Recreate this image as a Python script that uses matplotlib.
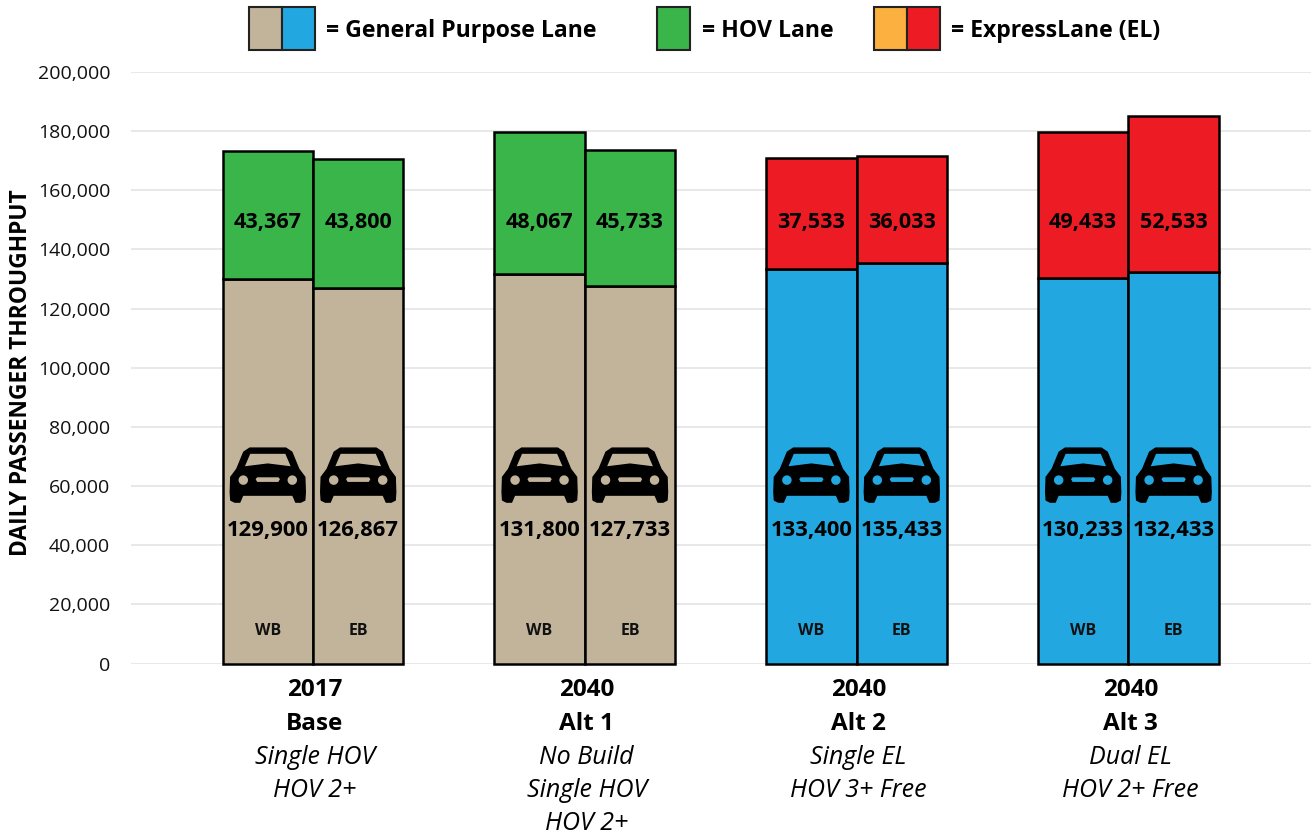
import matplotlib
matplotlib.use("Agg")
import matplotlib.pyplot as plt
from matplotlib.patches import Rectangle, PathPatch
from matplotlib.path import Path
from matplotlib.transforms import Affine2D, ScaledTranslation, blended_transform_factory
import numpy as np

plt.rcParams['font.family'] = ['Open Sans', 'DejaVu Sans']

# Data
years = ["2017", "2040", "2040", "2040"]
names = ["Base", "Alt 1", "Alt 2", "Alt 3"]
notes = [["Single HOV", "HOV 2+"],
         ["No Build", "Single HOV", "HOV 2+"],
         ["Single EL", "HOV 3+ Free"],
         ["Dual EL", "HOV 2+ Free"]]
gp_wb = [129900, 131800, 133400, 130233]
gp_eb = [126867, 127733, 135433, 132433]
top_wb = [43367, 48067, 37533, 49433]
top_eb = [43800, 45733, 36033, 52533]
gp_colors = ["#C2B49A", "#C2B49A", "#23A7E0", "#23A7E0"]
top_colors = ["#39B54A", "#39B54A", "#ED1C24", "#ED1C24"]
y_ticks = list(range(0, 200001, 20000))

W, H = 1314, 838
fig = plt.figure(figsize=(W / 100, H / 100), dpi=100)
ax = fig.add_axes([131 / W, 1 - 663.5 / H, (1311 - 131) / W, (663.5 - 72) / H])
ax.set_xlim(-0.6696, 3.6718)
ax.set_ylim(0, 200000)

for s in ax.spines.values():
    s.set_visible(False)
ax.set_axisbelow(True)
ax.grid(axis='y', color='#E6E6E6', lw=1.3)
ax.tick_params(length=0)
ax.set_xticks([])
ax.set_yticks(y_ticks)
ax.set_yticklabels([f"{v:,}" for v in y_ticks], fontsize=14, color='#111111')
ax.tick_params(axis='y', pad=15)
fig.text(21 / W, 1 - 373 / H, "DAILY PASSENGER THROUGHPUT", rotation=90, fontsize=16.4,
         fontweight='bold', ha='center', va='center', color='black')

# car icon in pixels, centred on 0,0 with y pointing up
car_side = [(18, 27), (24, 23), (31, 6), (37, -2), (37.5, -17), (37, -25), (33, -27), (28, -27), (25, -20)]
car_outer = [(-x, y) for x, y in car_side] + [(x, y) for x, y in car_side[::-1]]
car_window = [(-24, 8), (0, 11), (24, 8), (18, 22), (-18, 22)]
car_slot = [(-13, -4), (-11, -7.5), (11, -7.5), (13, -4), (11, -1.5), (-11, -1.5)]


def circle_verts(cx, cy, r):
    t = np.linspace(0, 2 * np.pi, 17)
    return list(zip(cx + r * np.cos(t), cy + r * np.sin(t)))


def make_car():
    # holes have to run the other way round from the outline
    holes = [car_window, car_slot, circle_verts(-24.5, -5, 5.5), circle_verts(24.5, -5, 5.5)]
    parts = [car_outer] + [list(h)[::-1] for h in holes]
    verts, codes = [], []
    for p in parts:
        verts += list(p) + [p[0]]
        codes += [Path.MOVETO] + [Path.LINETO] * (len(p) - 1) + [Path.CLOSEPOLY]
    return Path(verts, codes)


car = make_car()
bw = 90.5 / 272
for i in range(4):
    for side, gp, top, d in ((-1, gp_wb[i], top_wb[i], "WB"), (1, gp_eb[i], top_eb[i], "EB")):
        x = i + side * bw / 2
        ax.bar(x, gp, bw, color=gp_colors[i], edgecolor='black', lw=1.8, zorder=3, clip_on=False)
        ax.bar(x, top, bw, bottom=gp, color=top_colors[i], edgecolor='black', lw=1.8, zorder=3, clip_on=False)
        ax.text(x, 149000, f"{top:,}", ha='center', va='center', fontsize=15.5, fontweight='bold',
                color='black', zorder=5)
        ax.text(x, 45000, f"{gp:,}", ha='center', va='center', fontsize=15.8, fontweight='bold',
                color='black', zorder=5)
        ax.text(x, 10900, d, ha='center', va='center', fontsize=11.5, fontweight='bold', color='#111111', zorder=5)
        # car icon sits at a fixed height above the value label
        tr = Affine2D() + ScaledTranslation(x, 63700, ax.transData)
        ax.add_patch(PathPatch(car, transform=tr, fc='black', ec='black', lw=1, joinstyle='round', zorder=5))

    # category labels under each group
    trans = blended_transform_factory(ax.transData, fig.transFigure)
    cx = i + 2 / 272
    ax.text(cx, 1 - 690 / H, years[i], transform=trans, ha='center', va='center', fontsize=17.5,
            fontweight='bold', clip_on=False)
    ax.text(cx, 1 - 724 / H, names[i], transform=trans, ha='center', va='center', fontsize=17.5,
            fontweight='bold', clip_on=False)
    for j, n in enumerate(notes[i]):
        ax.text(cx, 1 - (757.5 + 33 * j) / H, n, transform=trans, ha='center', va='center', fontsize=18,
                style='italic', clip_on=False)


# legend drawn by hand at the top of the figure
def legend_box(x0, colors, label, tx):
    bw_px = 33
    for k, c in enumerate(colors):
        fig.add_artist(Rectangle(((x0 + k * bw_px) / W, 1 - 50 / H), bw_px / W, 43 / H, transform=fig.transFigure,
                                 fc=c, ec='#222222', lw=1.5))
    fig.text(tx / W, 1 - 31 / H, label, fontsize=16.6, fontweight='bold', va='center', ha='left')


legend_box(249, ["#C2B49A", "#23A7E0"], "= General Purpose Lane", 326)
legend_box(657, ["#39B54A"], "= HOV Lane", 702)
legend_box(874, ["#FBB040", "#ED1C24"], "= ExpressLane (EL)", 951)

fig.savefig("out.png", dpi=100)
